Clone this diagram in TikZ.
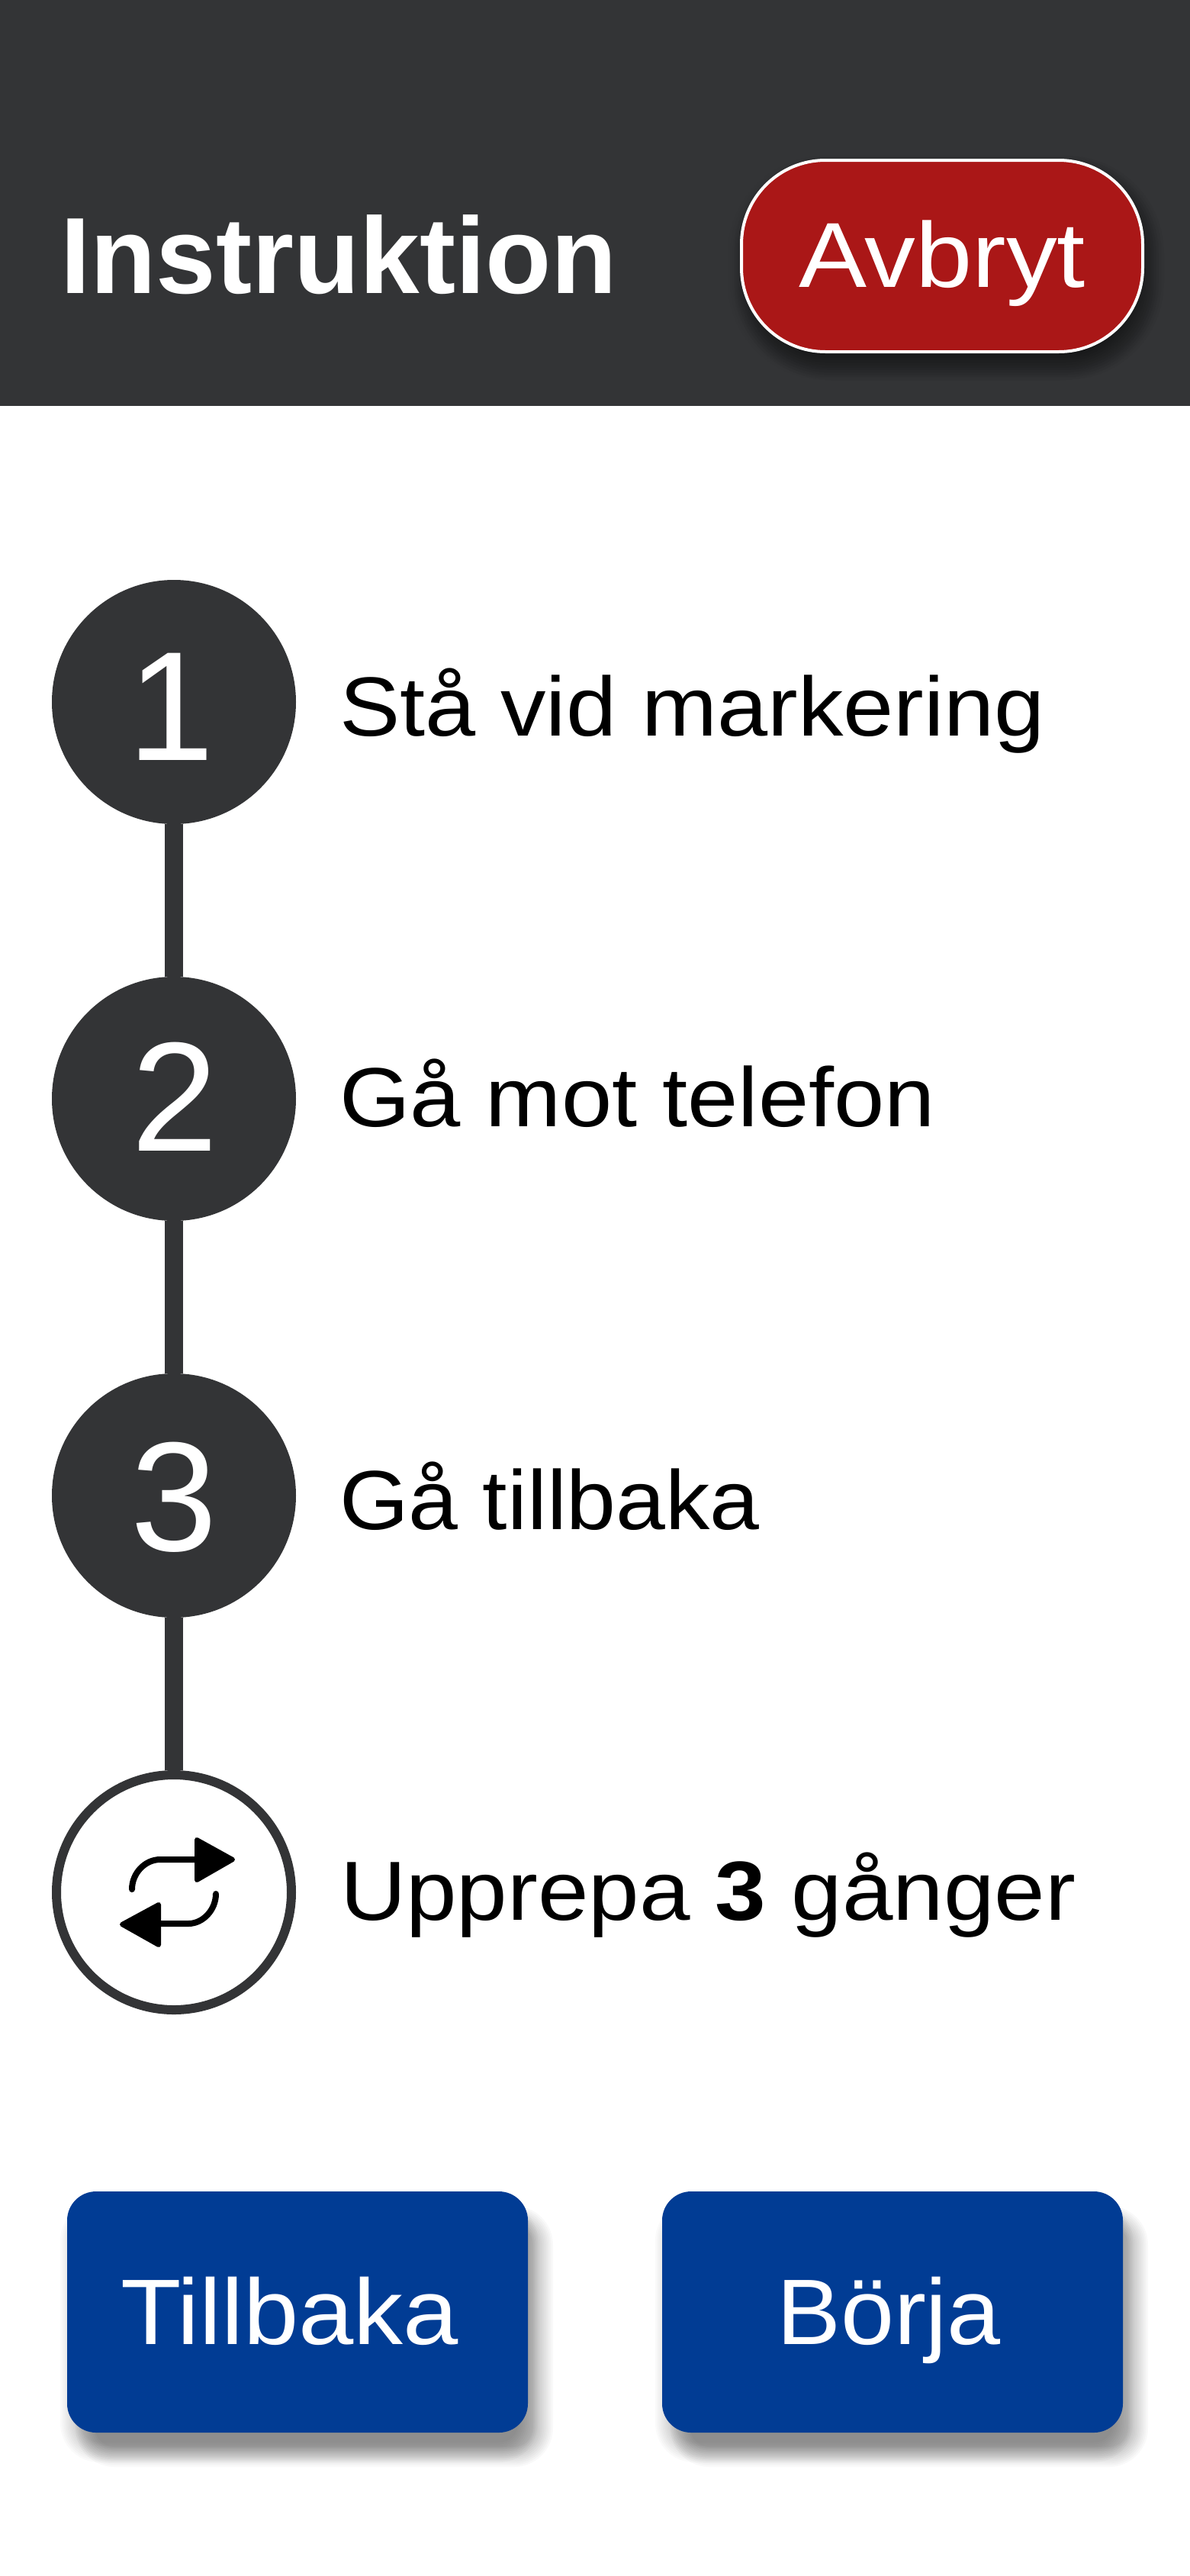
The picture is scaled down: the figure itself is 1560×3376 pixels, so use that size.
\documentclass[tikz,border=0pt]{standalone}
\usepackage{fontspec}
\setmainfont{Liberation Sans}
\definecolor{dark}{HTML}{333436}
\definecolor{alarm}{HTML}{AA1717}
\definecolor{action}{HTML}{013C94}
\newcommand{\fz}[1]{\fontsize{#1}{#1}\selectfont}
\newcommand{\fit}[2]{\resizebox{#1pt}{\height}{#2}}
% soft shadow: x1 y1 x2 y2 radius blur layeropacity
\newcommand{\softshadow}[7]{%
  \foreach \k in {0,...,11}{%
    \pgfmathsetmacro{\ins}{#6*(\k/5.5-1)}%
    \pgfmathsetmacro{\rad}{max(#5-\ins,1)}%
    \fill[black,fill opacity=#7,rounded corners=\rad pt]
      ({#1+\ins},{#2+\ins}) rectangle ({#3-\ins},{#4-\ins});
  }}
\tikzset{
  x=1pt,y=-1pt,
  txt/.style={inner sep=0pt,outer sep=0pt,anchor=base west,text=black},
  whitetxt/.style={inner sep=0pt,outer sep=0pt,anchor=base west,text=white},
  numtxt/.style={inner sep=0pt,outer sep=0pt,anchor=base,text=white,font=\fz{204}},
  stepdisc/.style={circle,fill=dark,minimum size=320pt,inner sep=0pt,outer sep=0pt},
  ringdisc/.style={circle,draw=dark,fill=white,line width=12pt,minimum size=308pt,inner sep=0pt,outer sep=6pt},
  link/.style={draw=dark,line width=24pt},
  iconline/.style={draw=black,line width=8pt,line cap=round},
  iconhead/.style={fill=black,draw=black,line width=6pt,line join=round},
  blue button/.style={fill=action,rounded corners=38pt,minimum width=604pt,minimum height=316pt,inner sep=0pt,outer sep=0pt},
}
\begin{document}
\begin{tikzpicture}
\useasboundingbox (0,0) rectangle (1560,3376);
\fill[white] (0,0) rectangle (1560,3376);
\fill[dark] (0,0) rectangle (1560,532);
% header
\node[whitetxt] (title) at (79,384) {\fz{142}\fit{730}{\bfseries Instruktion}};
\softshadow{980}{222}{1508}{480}{110}{18}{0.022}
\softshadow{972}{222}{1500}{480}{110}{18}{0.015}
\node[draw=white,fill=alarm,line width=4pt,rounded corners=110pt,minimum width=526pt,minimum height=251pt,inner sep=0pt,outer sep=0pt] (cancel) at (1235,335.5) {};
\node[whitetxt] (canceltxt) at (1047,376) {\fz{121}\fit{376}{Avbryt}};
% steps
\node[stepdisc] (c1) at (228,920) {};
\node[stepdisc] (c2) at (228,1440) {};
\node[stepdisc] (c3) at (228,1960) {};
\node[ringdisc] (c4) at (228,2480) {};
\draw[link] (c1) -- (c2);
\draw[link] (c2) -- (c3);
\draw[link] (c3) -- (c4);
\node[numtxt] (n1) at (224,996) {1};
\node[numtxt] (n2) at (229,1508) {2};
\node[numtxt] (n3) at (228,2032) {3};
\node[txt] (s1) at (445,964) {\fz{110}\fit{925}{Stå vid markering}};
\node[txt] (s2) at (445,1476) {\fz{110}\fit{781}{Gå mot telefon}};
\node[txt] (s3) at (445,2004) {\fz{110}\fit{551}{Gå tillbaka}};
\node[txt] (s4) at (446,2516) {\fz{110}\fit{964}{Upprepa \textbf{3} gånger}};
% repeat icon
\draw[iconline] (173,2476) .. controls (173,2455) and (190,2437) .. (210,2437) -- (258,2437);
\fill[iconhead] (258,2411) -- (305,2437) -- (258,2464) -- cycle;
\draw[iconline] (283,2482) .. controls (283,2503) and (266,2521) .. (247,2521) -- (208,2521);
\fill[iconhead] (208,2496) -- (160,2522) -- (208,2549) -- cycle;
% buttons
\softshadow{112}{2904}{712}{3220}{38}{13}{0.025}
\softshadow{92}{2898}{692}{3214}{38}{13}{0.02}
\softshadow{892}{2904}{1492}{3220}{38}{13}{0.025}
\softshadow{872}{2898}{1472}{3214}{38}{13}{0.02}
\node[blue button] (back) at (390,3030) {};
\node[blue button] (start) at (1170,3030) {};
\node[whitetxt] (backtxt) at (158,3072) {\fz{122}\fit{443}{Tillbaka}};
\node[whitetxt] (starttxt) at (1018,3072) {\fz{122}\fit{294}{Börja}};
\end{tikzpicture}
\end{document}
